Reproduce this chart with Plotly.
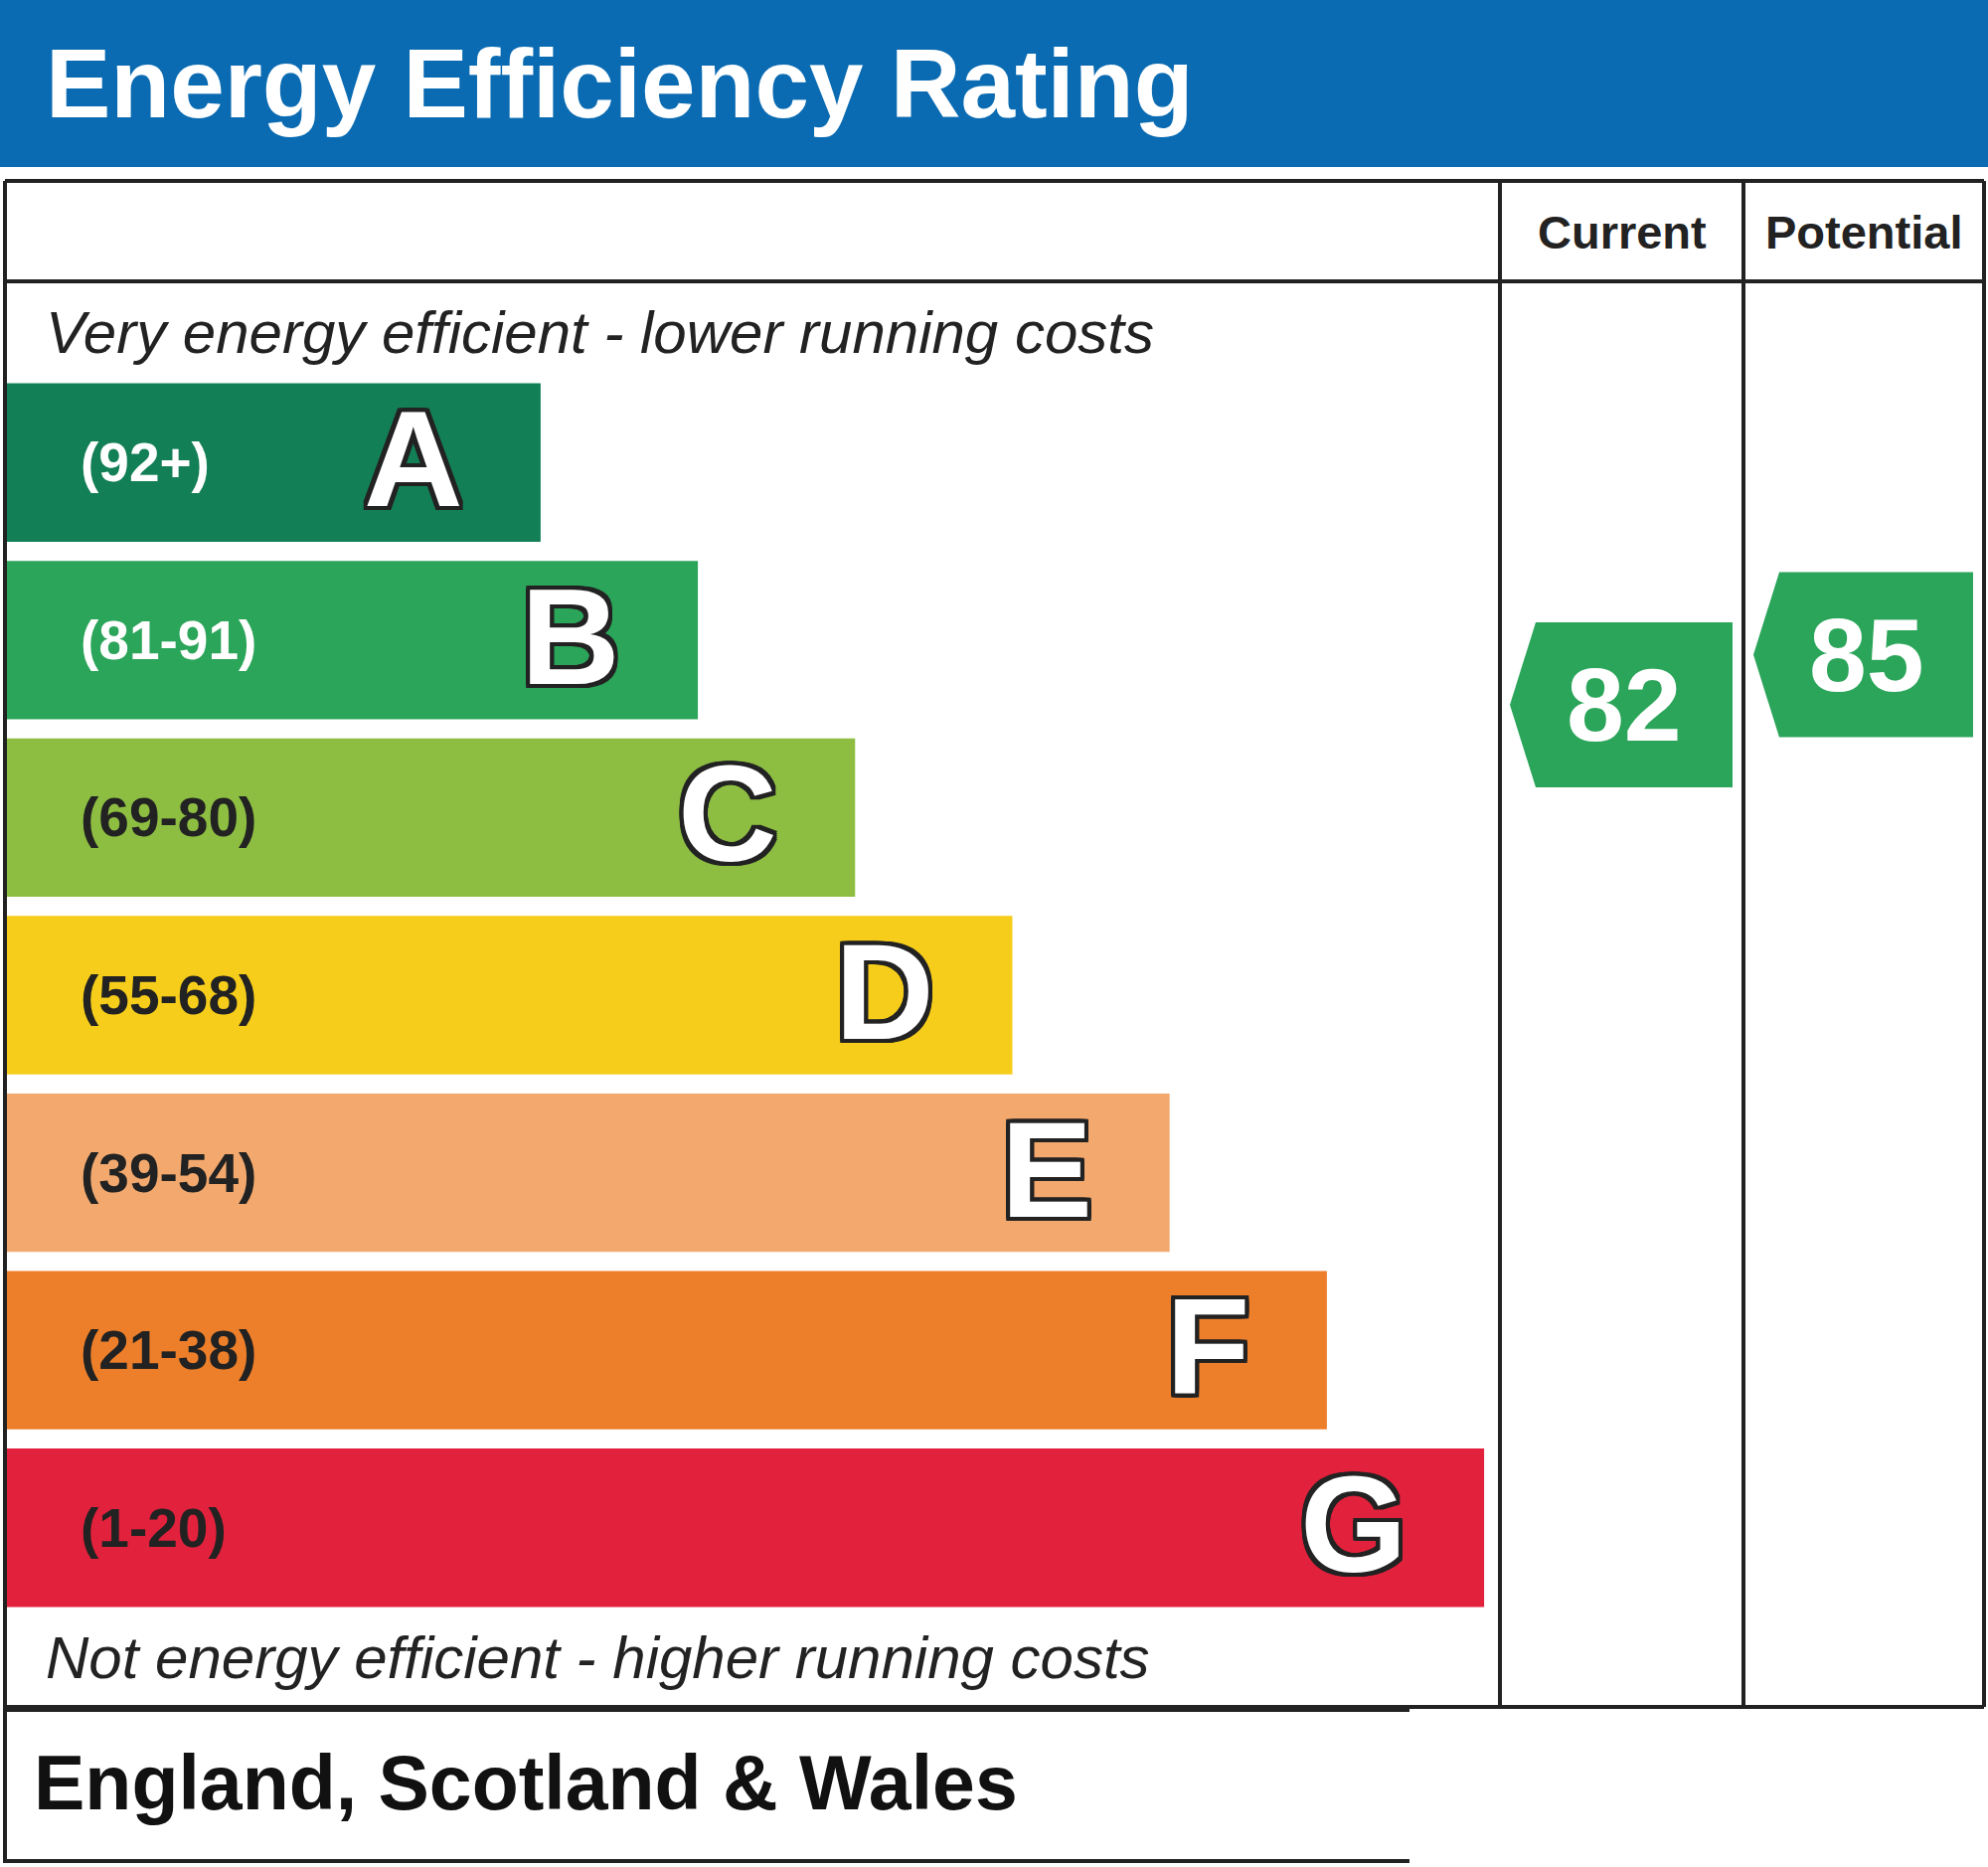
import plotly.graph_objects as go

W, H = 2000, 1878

# rating bands, top (most efficient) to bottom
bands = ["A", "B", "C", "D", "E", "F", "G"]
band_ranges = ["(92+)", "(81-91)", "(69-80)", "(55-68)", "(39-54)", "(21-38)", "(1-20)"]
bar_lengths = [3.4, 4.4, 5.4, 6.4, 7.4, 8.4, 9.4]
band_colors = ["#137f56", "#2ba55a", "#8dbe42", "#f6cd1a", "#f3a96e", "#ed7f2a", "#e2213c"]
range_colors = ["white", "white", "#222222", "#222222", "#222222", "#222222", "#222222"]

column_titles = ["Current", "Potential"]
ratings = [82, 85]
rating_colors = ["#2ba55a", "#2ba55a"]

LINE = "#222222"
FONT = "Liberation Sans"
UNIT = 158.2          # px per bar-length unit
BAR_LEFT = 6          # px


def px(x):
    return x / W


def py(y):
    return 1 - y / H


def paper_text(x, y, text, size, xanchor="left", **font):
    fig.add_annotation(x=px(x), y=py(y), xref="paper", yref="paper",
                       xanchor=xanchor, yanchor="middle", text=text, showarrow=False,
                       font=dict(family=FONT, size=size, **font))


fig = go.Figure()

# colour bars
fig.add_trace(go.Bar(
    y=bands, x=bar_lengths, orientation="h",
    marker=dict(color=band_colors, line_width=0),
    hoverinfo="skip", xaxis="x", yaxis="y",
))

# current / potential arrows, positioned by the rating value
col_edges = [1509, 1754, 1996]
half = 4.94
for i, (title, val, col) in enumerate(zip(column_titles, ratings, rating_colors)):
    tip = col_edges[i] + 10
    shoulder = tip + 26
    right = col_edges[i + 1] - 11
    fig.add_trace(go.Scatter(
        x=[tip, shoulder, right, right, shoulder, tip],
        y=[val, val + half, val + half, val - half, val - half, val],
        fill="toself", fillcolor=col, mode="lines", line=dict(width=0, color=col),
        hoverinfo="skip", xaxis="x2", yaxis="y2",
    ))
    fig.add_annotation(
        x=(tip + right) / 2 + 3, y=val, xref="x2", yref="y2", text=str(val),
        xanchor="center", yanchor="middle", showarrow=False,
        font=dict(family=FONT, size=104, color="white", weight="bold"),
    )
    paper_text((col_edges[i] + col_edges[i + 1]) / 2, 234, title, 47, xanchor="center",
               color="#222222", weight="bold")

# range labels and band letters
outline = ", ".join(f"{dx}px {dy}px 0 {LINE}" for dx, dy in
                    [(-4, -4), (4, -4), (-4, 4), (4, 4), (0, 4), (0, -4), (4, 0), (-4, 0),
                     (-2, -4), (2, -4), (-2, 4), (2, 4), (4, 2), (4, -2), (-4, 2), (-4, -2)])
for b, r, length, rc in zip(bands, band_ranges, bar_lengths, range_colors):
    fig.add_annotation(
        x=0.46, y=b, xref="x", yref="y", text=r, xanchor="left", yanchor="middle",
        showarrow=False, font=dict(family=FONT, size=55, color=rc, weight="bold"),
    )
    fig.add_annotation(
        x=length, y=b, xref="x", yref="y", text=b, xanchor="right", yanchor="middle",
        xshift=-76, yshift=4, showarrow=False,
        font=dict(family=FONT, size=138, color="white", weight="bold", shadow=outline),
    )

# header band
fig.add_shape(type="rect", xref="paper", yref="paper", x0=0, x1=1, y0=py(168), y1=1,
              fillcolor="#0a6bb2", line_width=0, layer="below")
paper_text(44, 84, "Energy Efficiency Rating", 98, color="white", weight="bold")

# table grid
lines = [
    (5, 182, 1996, 182), (5, 283, 1996, 283), (5, 1717, 1996, 1717),
    (5, 182, 5, 1874), (1996, 182, 1996, 1717),
    (1509, 182, 1509, 1717), (1754, 182, 1754, 1717),
    (5, 1720, 1418, 1720), (5, 1872, 1418, 1872),
]
for x0, y0, x1, y1 in lines:
    fig.add_shape(type="line", xref="paper", yref="paper",
                  x0=px(x0), y0=py(y0), x1=px(x1), y1=py(y1),
                  line=dict(color=LINE, width=4))

paper_text(44, 334, "Very energy efficient - lower running costs", 60,
           color="#222222", style="italic")
paper_text(44, 1667, "Not energy efficient - higher running costs", 60,
           color="#222222", style="italic")
paper_text(32, 1793, "England, Scotland & Wales", 77, color="#111111", weight="bold")

fig.update_layout(
    width=W, height=H,
    margin=dict(l=0, r=0, t=0, b=0),
    paper_bgcolor="white", plot_bgcolor="rgba(0,0,0,0)",
    showlegend=False, bargap=0.1075,
    xaxis=dict(domain=[0, 1], range=[-BAR_LEFT / UNIT, (W - BAR_LEFT) / UNIT], visible=False, fixedrange=True),
    yaxis=dict(domain=[py(1626), py(376)], categoryorder="array", categoryarray=bands,
               autorange="reversed", visible=False, fixedrange=True),
    xaxis2=dict(domain=[0, 1], range=[0, W], anchor="y2", visible=False, fixedrange=True),
    yaxis2=dict(domain=[0, 1], range=[12.42, 124.2], anchor="x2", visible=False, fixedrange=True),
)

fig.write_html("out.html", config={"displayModeBar": False},
               post_script="document.body.style.margin='0';document.body.style.overflow='hidden';")
